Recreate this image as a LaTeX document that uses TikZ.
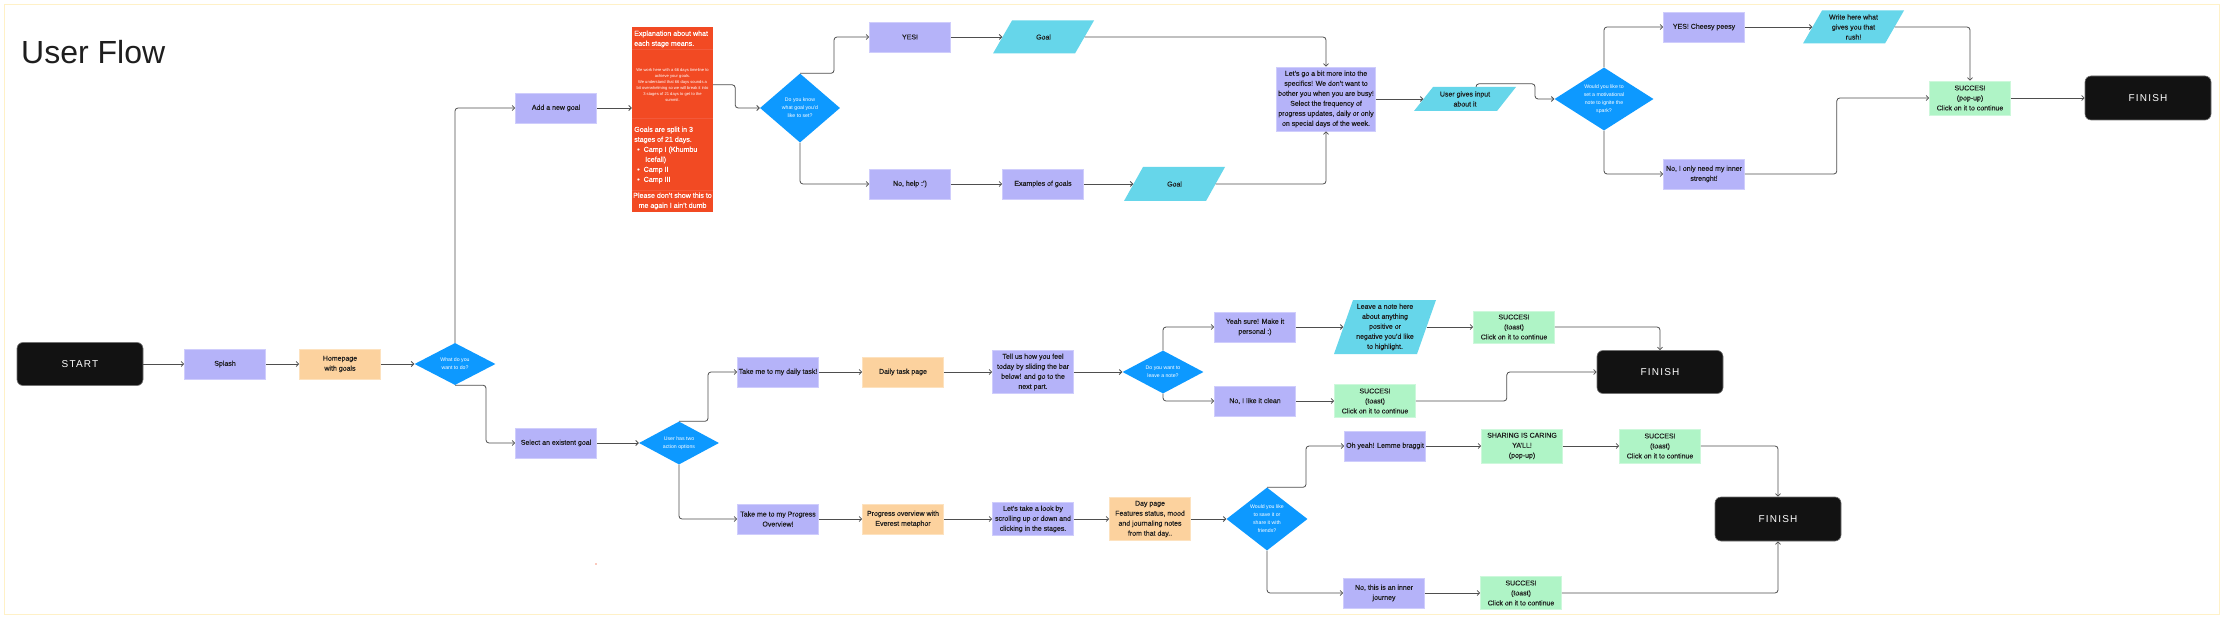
\documentclass[tikz,border=0pt]{standalone}
\usepackage{fontspec}
\setmainfont{Liberation Sans}
\newfontfamily\termfont[LetterSpace=12]{Liberation Sans}
\newfontfamily\boxfont[FakeBold=0.25]{Liberation Sans}
\usetikzlibrary{arrows.meta,shapes.geometric}
\definecolor{ink}{HTML}{1E1E1E}
\definecolor{lav}{HTML}{B5B3F9}
\definecolor{lavedge}{HTML}{CFCDFC}
\definecolor{peach}{HTML}{FCD29E}
\definecolor{peachedge}{HTML}{FDE2BF}
\definecolor{cyanc}{HTML}{66D6EA}
\definecolor{blued}{HTML}{0D99FF}
\definecolor{greenc}{HTML}{AFF4C6}
\definecolor{greenedge}{HTML}{CDF8DB}
\definecolor{orng}{HTML}{F24A23}
\definecolor{orngsep}{HTML}{F3593A}
\definecolor{blk}{HTML}{121212}
\definecolor{linec}{HTML}{4E4E4E}
\definecolor{framec}{HTML}{FFF1C7}
\tikzset{
  basebox/.style={rectangle, inner sep=0.5pt, align=center, text=ink, font=\boxfont\fontsize{7}{10}\selectfont},
  lavbox/.style={basebox, fill=lav, draw=lavedge, line width=0.6pt, minimum width=81pt, minimum height=30pt},
  peachbox/.style={basebox, fill=peach, draw=peachedge, line width=0.6pt, minimum width=81pt, minimum height=30pt},
  greenbox/.style={basebox, fill=greenc, draw=greenedge, line width=0.6pt, minimum width=81pt, minimum height=33pt},
  partext/.style={basebox, inner sep=0pt},
  dia/.style={diamond, fill=blued, text=white, font=\fontsize{5.2}{8}\selectfont, align=center, inner sep=0pt},
  term/.style={rectangle, rounded corners=6pt, fill=blk, draw=black!55, line width=0.6pt, minimum width=126pt, minimum height=43pt, text=white, font=\termfont\fontsize{10}{12}\selectfont},
  conn/.style={draw=linec, line width=0.8pt, rounded corners=3pt, -{Straight Barb[length=2.5pt,width=5pt,line width=0.8pt]}},
  otext/.style={inner sep=0pt, text=white, font=\boxfont\fontsize{7.1}{10}\selectfont},
}
\newcommand\parnode[6]{%
  \fill[cyanc] ({#2-#4/2},{#3+#5/2}) -- ({#2-#4/2+19},{#3-#5/2}) -- ({#2+#4/2},{#3-#5/2}) -- ({#2+#4/2-19},{#3+#5/2}) -- cycle;
  \node[partext, minimum width={(#4-19)*1pt}, minimum height={#5*1pt}] (#1) at (#2,#3) {#6};
}
\begin{document}
\begin{tikzpicture}[x=1pt,y=-1pt]
\useasboundingbox (0,0) rectangle (2224,620);
\fill[white] (0,0) rectangle (2224,620);
\draw[framec, line width=1pt] (4.5,4.5) rectangle (2219,614.5);
\fill[orng!60] (596,564) circle (0.8);

% title
\node[anchor=west, inner sep=0pt, text=ink, font=\fontsize{32}{36}\selectfont] (title) at (21,52) {User Flow};

% main row
\node[term] (start) at (80,364) {START};
\node[lavbox] (splash) at (225,364) {Splash};
\node[peachbox] (home) at (340,364) {Homepage\\with goals};
\node[dia, minimum width=81pt, minimum height=42pt, aspect=1.93] (d1) at (455,364) {What do you\\want to do?};

% new goal branch
\node[lavbox] (addgoal) at (556,108) {Add a new goal};
\node[fill=orng, minimum width=81pt, minimum height=185pt, inner sep=0pt] (expl) at (672.5,119.5) {};
\draw[orngsep, line width=0.5pt] (632,49) -- (713,49) (632,118) -- (713,118) (632,190) -- (713,190);
\node[otext, anchor=west, align=left] (expl1) at (634,39) {Explanation about what\\each stage means.};
\node[otext, align=center, font=\fontsize{4.1}{6}\selectfont] (expl2) at (672.5,85.5) {We work here with a 66 days timeline to\\achieve your goals.\\We understand that 66 days sounds a\\bit overwhelming so we will break it into\\3 stages of 21 days to get to the\\summit.};
\node[otext, anchor=west, align=left] (expl3) at (634,155) {Goals are split in 3\\stages of 21 days.\\\hspace*{3pt}\textbullet\hspace{4pt}Camp I (Khumbu\\\hspace*{11pt}Icefall)\\\hspace*{3pt}\textbullet\hspace{4pt}Camp II\\\hspace*{3pt}\textbullet\hspace{4pt}Camp III};
\node[otext, align=center] (expl4) at (672.5,201) {Please don’t show this to\\me again I ain’t dumb};

\node[dia, minimum width=80pt, minimum height=69pt, aspect=1.16] (d3) at (800,108) {Do you know\\what goal you’d\\like to set?};
\node[lavbox] (yes) at (910,37) {YES!};
\parnode{goal1}{1043.5}{37}{101}{33}{Goal}
\node[lavbox] (nohelp) at (910,184) {No, help :’)};
\node[lavbox] (examples) at (1043,184) {Examples of goals};
\parnode{goal2}{1174.5}{184}{101}{34}{Goal}
\node[lavbox, minimum width=99pt, minimum height=64pt] (letsgo) at (1326,99) {Let’s go a bit more into the\\specifics! We don’t want to\\bother you when you are busy!\\Select the frequency of\\progress updates, daily or only\\on special days of the week.};
\parnode{input}{1465}{99}{102}{24}{User gives input\\about it}
\node[dia, minimum width=99pt, minimum height=63pt, aspect=1.57] (d4) at (1604,99) {Would you like to\\set a motivational\\note to ignite the\\spark?};
\node[lavbox] (cheesy) at (1704,27) {YES! Cheesy peesy};
\parnode{rush}{1853.5}{27}{101}{33}{Write here what\\gives you that\\rush!};
\node[lavbox] (inner) at (1704,174) {No, I only need my inner\\strenght!};
\node[greenbox, minimum height=34pt] (succ1) at (1970,98) {SUCCES!\\(pop-up)\\Click on it to continue};
\node[term, minimum height=44pt] (fin1) at (2148,98) {FINISH};

% existing goal branch
\node[lavbox] (select) at (556,443) {Select an existent goal};
\node[dia, minimum width=80pt, minimum height=43pt, aspect=1.86] (d2) at (679,443) {User has two\\action options};

\node[lavbox] (daily) at (778,372) {Take me to my daily task!};
\node[peachbox] (dtp) at (903,372) {Daily task page};
\node[lavbox, minimum height=43pt] (tell) at (1033,372) {Tell us how you feel\\today by sliding the bar\\below! and go to the\\next part.};
\node[dia, minimum width=81pt, minimum height=43pt, aspect=1.88] (d5) at (1163,372) {Do you want to\\leave a note?};
\node[lavbox] (yeah) at (1255,327) {Yeah sure! Make it\\personal :)};
\node[lavbox] (clean) at (1255,401) {No, I like it clean};
\parnode{note}{1385}{327}{102}{54}{Leave a note here\\about anything\\positive or\\negative you’d like\\to highlight.}
\node[greenbox, minimum height=32pt] (succ2) at (1514,327) {SUCCES!\\(toast)\\Click on it to continue};
\node[greenbox] (succ3) at (1375,401) {SUCCES!\\(toast)\\Click on it to continue};
\node[term] (fin2) at (1660,372) {FINISH};

\node[lavbox] (prog) at (778,519) {Take me to my Progress\\Overview!};
\node[peachbox] (pov) at (903,519) {Progress overview with\\Everest metaphor};
\node[lavbox, minimum height=33pt] (look) at (1033,519) {Let’s take a look by\\scrolling up or down and\\clicking in the stages.};
\node[peachbox, minimum height=43pt] (day) at (1150,519) {Day page\\Features status, mood\\and journaling notes\\from that day..};
\node[dia, minimum width=81pt, minimum height=63pt, aspect=1.29] (d6) at (1267,519) {Would you like\\to save it or\\share it with\\friends?};
\node[lavbox] (brag) at (1385,446) {Oh yeah! Lemme braggit};
\node[greenbox, minimum height=34pt] (sharing) at (1522,446) {SHARING IS CARING\\YA’LL!\\(pop-up)};
\node[greenbox, minimum height=34pt] (succ4) at (1660,446) {SUCCES!\\(toast)\\Click on it to continue};
\node[lavbox] (journey) at (1384,593) {No, this is an inner\\journey};
\node[greenbox] (succ5) at (1521,593) {SUCCES!\\(toast)\\Click on it to continue};
\node[term, minimum height=44pt] (fin3) at (1778,519) {FINISH};

% connectors
\draw[conn] (start.east) -- (splash.west);
\draw[conn] (splash.east) -- (home.west);
\draw[conn] (home.east) -- (d1.west);
\draw[conn] (d1.north) |- (addgoal.west);
\draw[conn] (d1.south) -- ++(31,0) |- (select.west);
\draw[conn] (addgoal.east) -- (addgoal.east -| expl.west);
\draw[conn] (expl.north east) ++(0,58) -- ++(22,0) |- (d3.west);
\draw[conn] (d3.north) -- ++(34,0) |- (yes.west);
\draw[conn] (d3.south) |- (nohelp.west);
\draw[conn] (yes.east) -- (goal1.west);
\draw[conn] (goal1.east) -| (letsgo.north);
\draw[conn] (nohelp.east) -- (examples.west);
\draw[conn] (examples.east) -- (goal2.west);
\draw[conn] (goal2.east) -| (letsgo.south);
\draw[conn] (letsgo.east) -- (input.west);
\draw[conn] ([xshift=11pt]input.north) -- ++(0,-3) -- ++(59,0) |- (d4.west);
\draw[conn] (d4.north) |- (cheesy.west);
\draw[conn] (d4.south) |- (inner.west);
\draw[conn] (cheesy.east) -- (rush.west);
\draw[conn] (rush.east) -| (succ1.north);
\draw[conn] (inner.east) -- ++(92,0) |- (succ1.west);
\draw[conn] (succ1.east) -- (fin1.west);

\draw[conn] (select.east) -- (d2.west);
\draw[conn] (d2.north) -- ++(29,0) |- (daily.west);
\draw[conn] (d2.south) |- (prog.west);
\draw[conn] (daily.east) -- (dtp.west);
\draw[conn] (dtp.east) -- (tell.west);
\draw[conn] (tell.east) -- (d5.west);
\draw[conn] (d5.north) |- (yeah.west);
\draw[conn] (d5.south) |- (clean.west);
\draw[conn] (yeah.east) -- (note.west);
\draw[conn] (note.east) -- (succ2.west);
\draw[conn] (succ2.east) -| (fin2.north);
\draw[conn] (clean.east) -- (succ3.west);
\draw[conn] (succ3.east) -- ++(91,0) |- (fin2.west);

\draw[conn] (prog.east) -- (pov.west);
\draw[conn] (pov.east) -- (look.west);
\draw[conn] (look.east) -- (day.west);
\draw[conn] (day.east) -- (d6.west);
\draw[conn] (d6.north) -- ++(39,0) |- (brag.west);
\draw[conn] (d6.south) |- (journey.west);
\draw[conn] (brag.east) -- (sharing.west);
\draw[conn] (sharing.east) -- (succ4.west);
\draw[conn] (succ4.east) -| (fin3.north);
\draw[conn] (journey.east) -- (succ5.west);
\draw[conn] (succ5.east) -| (fin3.south);
\end{tikzpicture}
\end{document}
